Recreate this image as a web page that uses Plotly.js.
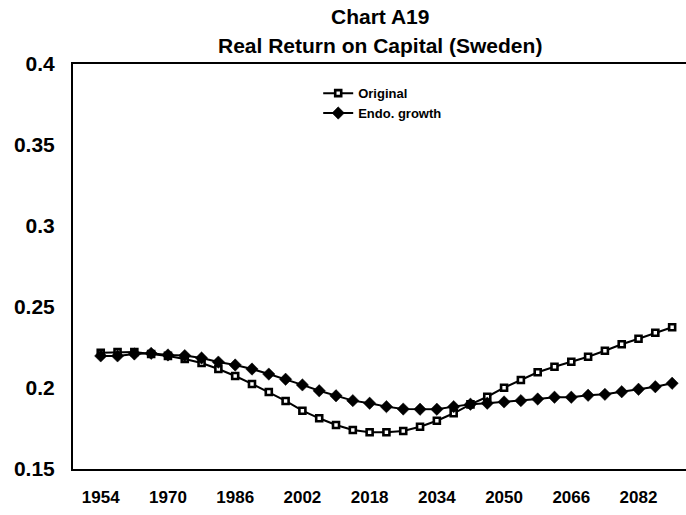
<!DOCTYPE html>
<html>
<head>
<meta charset="utf-8">
<script src="https://cdn.plot.ly/plotly-3.0.1.min.js"></script>
<style>
  html, body { margin: 0; padding: 0; background: #ffffff; }
  #chart { width: 686px; height: 515px; }
</style>
</head>
<body>
<div id="chart"></div>
<script>
// ---- Data ----
var years = [1954, 1958, 1962, 1966, 1970, 1974, 1978, 1982, 1986, 1990,
             1994, 1998, 2002, 2006, 2010, 2014, 2018, 2022, 2026, 2030,
             2034, 2038, 2042, 2046, 2050, 2054, 2058, 2062, 2066, 2070,
             2074, 2078, 2082, 2086, 2090];

var original = [0.2218, 0.2222, 0.2222, 0.2210, 0.2198, 0.2179, 0.2154, 0.2117, 0.2074, 0.2025,
                0.1975, 0.1920, 0.1860, 0.1813, 0.1772, 0.1741, 0.1727, 0.1727, 0.1735, 0.1761,
                0.1798, 0.1844, 0.1899, 0.1946, 0.2002, 0.2049, 0.2097, 0.2131, 0.2162, 0.2193,
                0.2230, 0.2270, 0.2304, 0.2341, 0.2375];

var endoGrowth = [0.2198, 0.2198, 0.2210, 0.2214, 0.2204, 0.2200, 0.2185, 0.2160, 0.2142, 0.2117,
                  0.2086, 0.2054, 0.2019, 0.1983, 0.1952, 0.1922, 0.1906, 0.1885, 0.1870, 0.1869,
                  0.1869, 0.1885, 0.1900, 0.1906, 0.1914, 0.1922, 0.1932, 0.1943, 0.1943, 0.1955,
                  0.1961, 0.1977, 0.1992, 0.2008, 0.2029];

var xTickVals = [1954, 1970, 1986, 2002, 2018, 2034, 2050, 2066, 2082];
var xTickText = ['1954', '1970', '1986', '2002', '2018', '2034', '2050', '2066', '2082'];
var yTickVals = [0.15, 0.2, 0.25, 0.3, 0.35, 0.4];
var yTickText = ['0.15', '0.2', '0.25', '0.3', '0.35', '0.4'];

var seriesNames = ['Original', 'Endo. growth'];
var titleLines = ['Chart A19', 'Real Return on Capital (Sweden)'];

// ---- Chart ----
var FONT = 'Arial, "Liberation Sans", Helvetica, sans-serif';
var titleFont = { family: FONT, size: 21, weight: 700, color: '#000000' };

var traces = [
  {
    x: years, y: original, name: seriesNames[0],
    type: 'scatter', mode: 'lines+markers',
    line: { color: '#000000', width: 2 },
    marker: { symbol: 'square', size: 6, color: '#ffffff', line: { color: '#000000', width: 2.6 } }
  },
  {
    x: years, y: endoGrowth, name: seriesNames[1],
    type: 'scatter', mode: 'lines+markers',
    line: { color: '#000000', width: 2 },
    marker: { symbol: 'diamond', size: 9.5, color: '#000000', line: { color: '#000000', width: 0.5 } }
  }
];

var layout = {
  width: 686, height: 515,
  paper_bgcolor: '#ffffff', plot_bgcolor: '#ffffff',
  margin: { l: 73, r: 0, t: 64, b: 46, pad: 0 },
  font: { family: FONT, color: '#000000' },
  annotations: [
    { text: titleLines[0], xref: 'paper', yref: 'paper', x: 0.5, y: 1.1185,
      xanchor: 'center', yanchor: 'middle', showarrow: false, font: titleFont },
    { text: titleLines[1], xref: 'paper', yref: 'paper', x: 0.5, y: 1.0469,
      xanchor: 'center', yanchor: 'middle', showarrow: false, font: titleFont }
  ],
  showlegend: true,
  legend: {
    x: 0.4, y: 0.965, xanchor: 'left', yanchor: 'top',
    bgcolor: 'rgba(0,0,0,0)', borderwidth: 0,
    font: { family: FONT, size: 13, weight: 700, color: '#000000' },
    itemwidth: 30, tracegroupgap: 0
  },
  xaxis: {
    type: 'linear',
    range: [1947.4, 2093.3],
    tickmode: 'array', tickvals: xTickVals, ticktext: xTickText,
    ticks: '', showgrid: false, zeroline: false,
    showline: true, linecolor: '#000000', linewidth: 2, mirror: true,
    tickfont: { family: FONT, size: 17, weight: 700, color: '#000000' },
    ticklabelstandoff: 12
  },
  yaxis: {
    range: [0.15, 0.4],
    tickmode: 'array', tickvals: yTickVals, ticktext: yTickText,
    ticks: '', showgrid: false, zeroline: false,
    showline: true, linecolor: '#000000', linewidth: 2, mirror: false,
    tickfont: { family: FONT, size: 21, weight: 700, color: '#000000' },
    ticklabelstandoff: 12
  }
};

Plotly.newPlot('chart', traces, layout, { displayModeBar: false, staticPlot: true });
</script>
</body>
</html>
